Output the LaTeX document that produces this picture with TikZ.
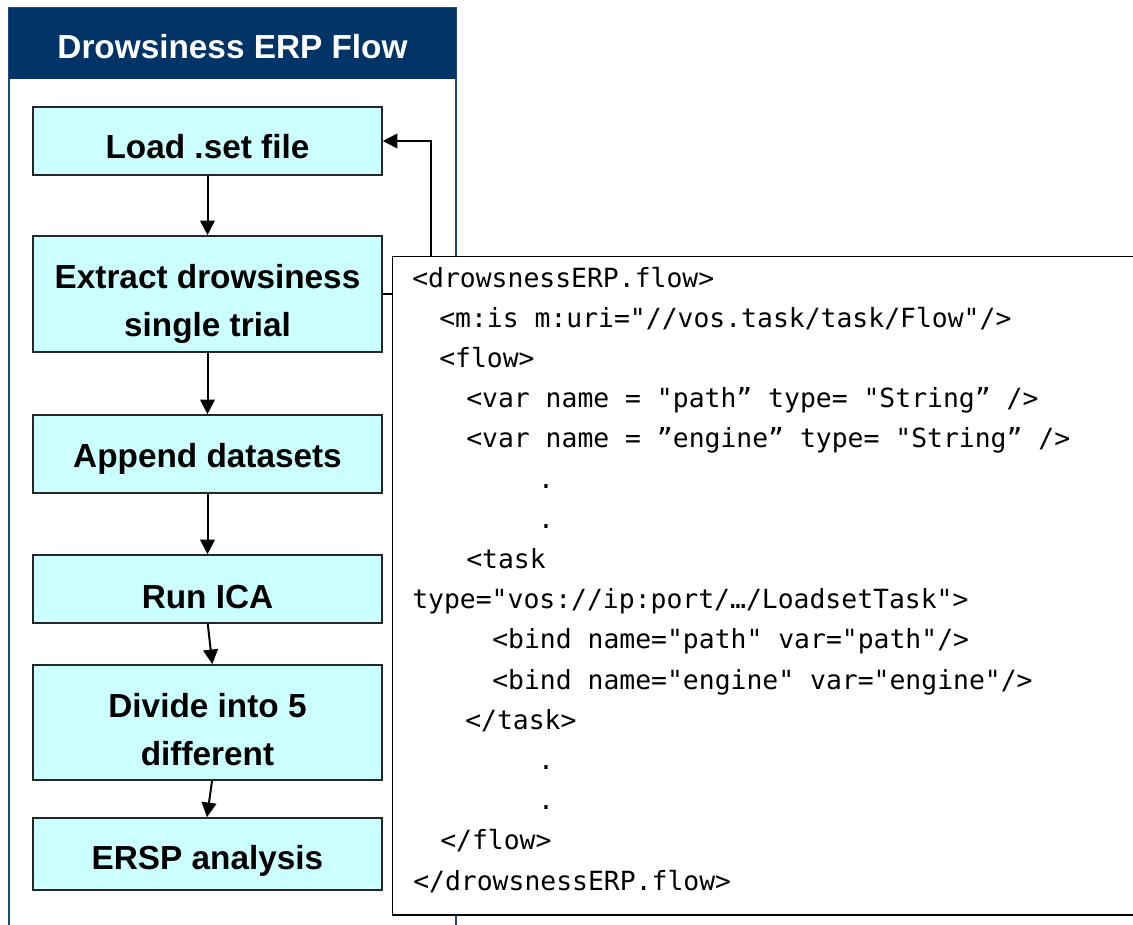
\documentclass[tikz,border=0pt]{standalone}
\usepackage{fontspec}
\setmainfont{Liberation Sans}
\newfontfamily\codefont{DejaVu Sans Mono}
\usetikzlibrary{arrows.meta}
\definecolor{navy}{HTML}{003366}
\definecolor{panelline}{HTML}{1F497D}
\definecolor{cyanfill}{HTML}{CCFFFF}
\begin{document}
\begin{tikzpicture}[x=0.75pt,y=-0.75pt,
  box/.style={draw=black!85, line width=1.2pt, fill=cyanfill, minimum width=261.75pt, inner sep=0pt},
  boxtext/.style={font=\bfseries\fontsize{25pt}{36pt}\selectfont, align=center, inner sep=0pt},
  arr/.style={line width=1.5pt, -{Triangle[length=11pt,width=11pt]}},
  code/.style={font=\codefont\fontsize{19.8pt}{24pt}\selectfont, anchor=base west, inner sep=0pt},
  codedot/.style={font=\codefont\fontsize{19.8pt}{24pt}\selectfont, anchor=base, inner sep=0pt}]
\useasboundingbox (0,0) rectangle (1133,925);
\begin{scope}
\clip (0,0) rectangle (1133,925);
\fill[white] (0,0) rectangle (1133,925);
% panel
\draw[panelline, line width=1.5pt] (9,8) rectangle (456,940);
\fill[navy] (9,8) rectangle (456,79);
\node[boxtext, text=white, anchor=base] (title) at (232.5,58) {Drowsiness ERP Flow};
% boxes
\node[box, minimum height=51pt] (load) at (207.5,141) {};
\node[box, minimum height=87pt] (extract) at (207.5,294) {};
\node[box, minimum height=58.5pt] (append) at (207.5,454) {};
\node[box, minimum height=51pt] (ica) at (207.5,589) {};
\node[box, minimum height=86.25pt] (divide) at (207.5,722.5) {};
\node[box, minimum height=54pt] (ersp) at (207.5,854) {};
% box labels
\node[boxtext, anchor=base] (loadt) at (207.5,158) {Load .set file};
\node[boxtext] (extractt) at (207.5,304) {Extract drowsiness\\single trial};
\node[boxtext, anchor=base] (appendt) at (207.5,467.5) {Append datasets};
\node[boxtext, anchor=base] (icat) at (207.5,608) {Run ICA};
\node[boxtext] (dividet) at (207.5,729.5) {Divide into 5\\different};
\node[boxtext, anchor=base] (erspt) at (207.5,869.5) {ERSP analysis};
% connectors
\draw[arr] (load.south) -- (extract.north);
\draw[arr] (extract.south) -- (append.north);
\draw[arr] (append.south) -- (ica.north);
\draw[arr] ([xshift=0.2pt]ica.south) -- ([xshift=3.6pt]divide.north);
\draw[arr] ([xshift=3.4pt]divide.south) -- ([xshift=-0.4pt]ersp.north);
\draw[arr] (extract.east) -- ++(48,0) |- (load.east);
% code box
\node[draw=black, fill=white, line width=1.2pt, minimum width=560.6pt, minimum height=493.9pt, inner sep=0pt] (codebox) at (766.25,585.75) {};
\node[code] (c1) at (412,287) {<drowsnessERP.flow>};
\node[code] (c2) at (439,327.2) {<m:is m:uri="//vos.task/task/Flow"/>};
\node[code] (c3) at (439,367.4) {<flow>};
\node[code] (c4) at (466,407.6) {<var name = "path” type= "String” />};
\node[code] (c5) at (466,447.8) {<var name = ”engine” type= "String” />};
\node[codedot] (c6) at (546,488) {.};
\node[codedot] (c7) at (546,528.2) {.};
\node[code] (c8) at (466,568.4) {<task};
\node[code] (c9) at (412,608.6) {type="vos://ip:port/…/LoadsetTask">};
\node[code] (c10) at (492,648.8) {<bind name="path" var="path"/>};
\node[code] (c11) at (492,689) {<bind name="engine" var="engine"/>};
\node[code] (c12) at (465,729.2) {</task>};
\node[codedot] (c13) at (546,769.4) {.};
\node[codedot] (c14) at (546,809.6) {.};
\node[code] (c15) at (440,849.8) {</flow>};
\node[code] (c16) at (413,890) {</drowsnessERP.flow>};
\end{scope}
\end{tikzpicture}
\end{document}
